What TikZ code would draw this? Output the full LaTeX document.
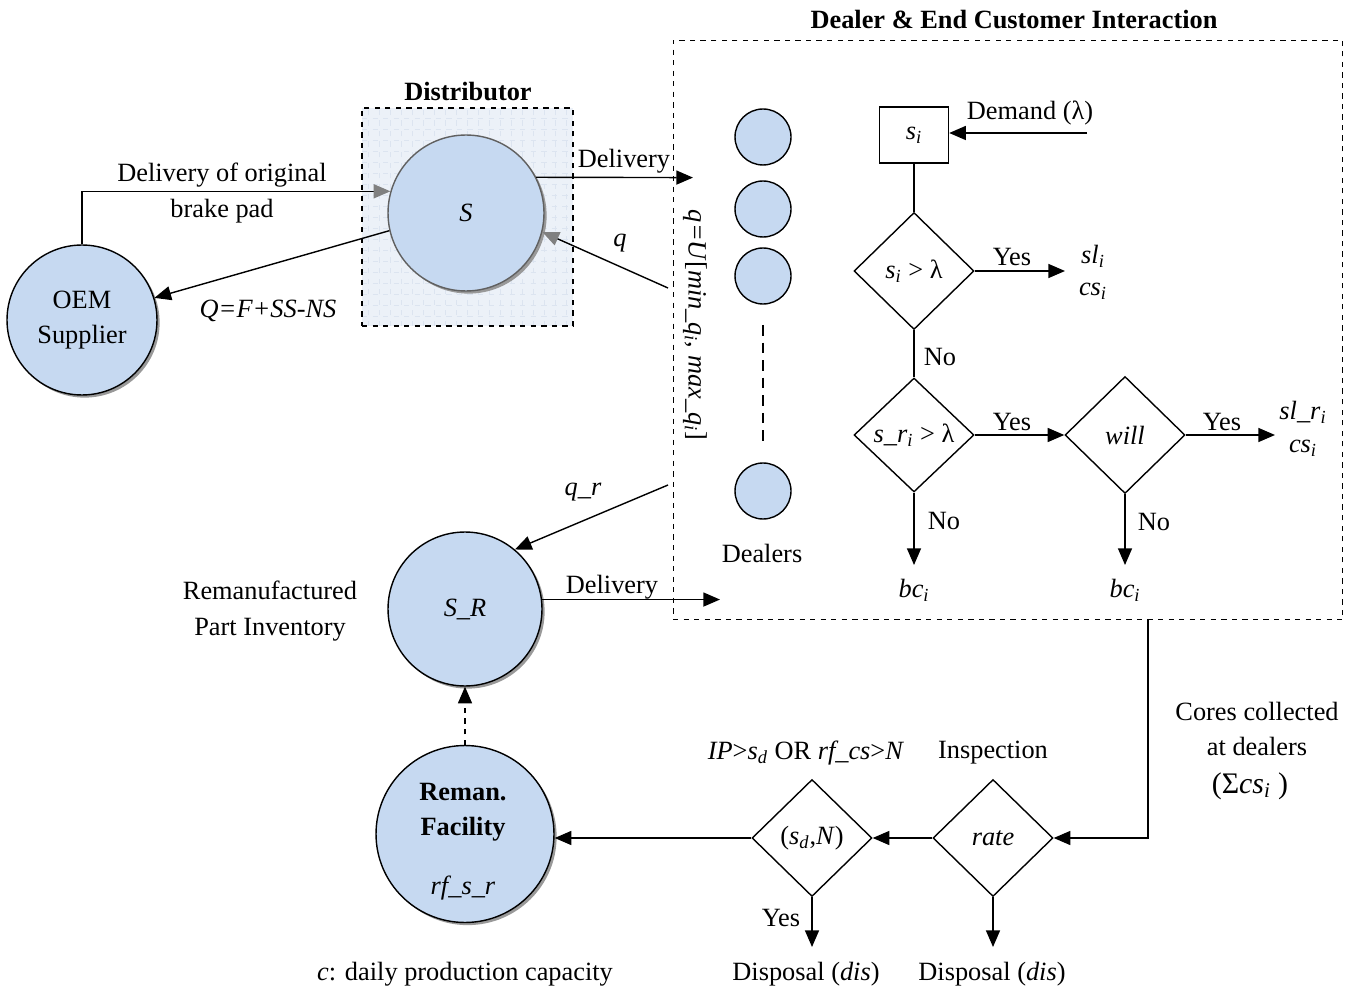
\documentclass[tikz,border=0pt]{standalone}
\usepackage{fontspec}
\setmainfont{Liberation Serif}
\usetikzlibrary{arrows.meta,shapes.geometric,shadows,calc}
\definecolor{cfill}{RGB}{198,217,241}
\definecolor{gfill}{RGB}{236,241,248}
\definecolor{gline}{RGB}{220,228,240}
\newcommand{\sbs}[1]{\textsubscript{\textit{#1}}}
\begin{document}
\begin{tikzpicture}[x=0.02cm,y=-0.02cm, font=\fontsize{15}{18}\selectfont,
 every node/.style={inner sep=1pt},
 arr/.style={draw=black, line width=0.8pt, -{Triangle[length=9.5pt,width=8pt]}},
 garr/.style={draw=black, line width=0.8pt, -{Triangle[length=9.5pt,width=8pt,color=gray]}},
 ln/.style={line width=0.8pt},
 shad/.style={drop shadow={shadow xshift=1.5pt, shadow yshift=-1.5pt, fill=gray!80, opacity=1}},
 blob/.style={circle, draw=black, line width=0.8pt, fill=cfill, shad, align=center},
 dealer/.style={circle, draw=black, line width=0.8pt, fill=cfill, minimum size=1.12cm},
 dia/.style={diamond, draw, line width=0.8pt, inner sep=0pt, minimum width=2.4cm, minimum height=2.34cm},
 dbox/.style={draw, dashed, line width=0.6pt},
]
\useasboundingbox (0,0) rectangle (1358,989);

% ---------- Distributor ----------
\node[font=\fontsize{15}{18}\selectfont\bfseries] (tdist) at (468,92) {Distributor};
\node[dbox, fill=gfill, minimum width=4.22cm, minimum height=4.36cm,
  path picture={\draw[gline, line width=0.4pt, step=0.22cm] (path picture bounding box.south west) grid (path picture bounding box.north east);}]
  (distbox) at (467.5,217) {};
\node[circle, draw=gray!75!black, line width=0.8pt, fill=cfill, minimum size=3.12cm, shad] (S) at (466,213) {\textit{S}};

% ---------- OEM ----------
\node[blob, minimum size=3cm] (oem) at (82,320) {OEM\\[2pt]Supplier};
\draw[garr] (oem.north) |- (S.164);
\node (tdel1) at (222,175) {Delivery of original};
\node (tdel2) at (222,211) {brake pad};
\draw[arr] (S.193) -- (oem.17);
\node (tQ) at (268,311) {\textit{Q=F+SS-NS}};

% ---------- Dealer box ----------
\node[font=\fontsize{15}{18}\selectfont\bfseries] (tdeal) at (1014,20) {Dealer \& End Customer Interaction};
\node[dbox, minimum width=13.4cm, minimum height=11.6cm] (dealerbox) at (1008,330) {};

\coordinate (dlvend) at (693,177.6);
\draw[arr] (S.27) -- (dlvend);
\node (tdlv) at (624,161) {Delivery};
\coordinate (qstart) at (668,288);
\draw[garr] (qstart) -- (S.-14);
\node (tq) at (620,243) {\textit{q}};

\node[rotate=-90] (qU) at (695,325) {\textit{q=U}[\textit{min\_q}\sbs{i}, \textit{max\_q}\sbs{i}]};

% dealers
\node[dealer] (dl1) at (763,137) {};
\node[dealer] (dl2) at (763,209) {};
\node[dealer] (dl3) at (763,276) {};
\node[dealer] (dl4) at (763,491) {};
\coordinate (dd1) at (763,325);
\coordinate (dd2) at (763,445);
\draw[line width=0.8pt, dash pattern=on 6pt off 4pt] (dd1) -- (dd2);
\node (tdealers) at (762,553) {Dealers};

% decision chain
\node[draw, line width=0.8pt, minimum width=1.38cm, minimum height=1.12cm] (si) at (914,135) {\textit{s}\sbs{i}};
\coordinate (dem) at (1087,133);
\draw[arr] (dem) -- (dem -| si.east);
\node (tdem) at (1030,113) {Demand (λ)};

\node[dia] (d1) at (914,271) {\textit{s}\sbs{i} > λ};
\draw[ln] (si.south) -- (d1.north);
\coordinate (y1) at (1065,271);
\draw[arr] (d1.east) -- (y1);
\node (tyes1) at (1012,257) {Yes};
\node (tsl) at (1093,256) {\textit{sl}\sbs{i}};
\node (tcs1) at (1093,291) {\textit{cs}\sbs{i}};

\node[dia, minimum height=2.28cm] (d2) at (914,435) {\textit{s\_r}\sbs{i} > λ};
\draw[ln] (d1.south) -- (d2.north);
\node (tno1) at (940,357) {No};

\node[dia] (d3) at (1125,435) {\textit{will}};
\draw[arr] (d2.east) -- (d3.west);
\node (tyes2) at (1012,422) {Yes};
\coordinate (y3) at (1275,435);
\draw[arr] (d3.east) -- (y3);
\node (tyes3) at (1222,422) {Yes};
\node (tslr) at (1303,412) {\textit{sl\_r}\sbs{i}};
\node (tcs2) at (1303,448) {\textit{cs}\sbs{i}};

\coordinate (n2) at (914,565);
\draw[arr] (d2.south) -- (n2);
\node (tno2) at (944,521) {No};
\node (tbc1) at (914,590) {\textit{bc}\sbs{i}};
\coordinate (n3) at (1125,565);
\draw[arr] (d3.south) -- (n3);
\node (tno3) at (1154,522) {No};
\node (tbc2) at (1125,590) {\textit{bc}\sbs{i}};

% ---------- Remanufactured inventory ----------
\node[blob, minimum size=3.08cm] (SR) at (465,609) {\textit{S\_R}};
\coordinate (qrstart) at (668,485);
\draw[arr] (qrstart) -- (SR.50);
\node (tqr) at (583,492) {\textit{q\_r}};
\node[align=center] (trem) at (270,611) {Remanufactured\\[2pt]Part Inventory};
\coordinate (dlv2end) at (720,600);
\draw[arr] (SR.7) -- (SR.7 -| dlv2end);
\node (tdlv2) at (612,587) {Delivery};

% ---------- Reman facility ----------
\node[blob, minimum width=3.56cm, minimum height=3.54cm, ellipse] (rf) at (465,834) {};
\node[font=\fontsize{15}{18}\selectfont\bfseries, align=center] (trf) at (463,812) {Reman.\\[2pt]Facility};
\node (trfs) at (463,888) {\textit{rf\_s\_r}};
\draw[dashed, line width=0.8pt, -{Triangle[length=9.5pt,width=8pt]}] (rf.north) -- (SR.south);
\node (tcap) at (465,974) {\textit{c}: daily production capacity};

% ---------- Inspection chain ----------
\node[dia] (rate) at (993,838) {\textit{rate}};
\node[dia] (sdn) at (812,838) {(\textit{s}\sbs{d},\textit{N})};
\coordinate (cc) at (1148,620);
\draw[arr] (cc) |- (rate.east);
\draw[arr] (rate.west) -- (sdn.east);
\draw[arr] (sdn.west) -- (sdn.west -| rf.east);
\node (tip) at (806,753) {\textit{IP}>\textit{s}\sbs{d} OR \textit{rf\_cs}>\textit{N}};
\node (tinsp) at (993,753) {Inspection};
\coordinate (dis1) at (812,947);
\coordinate (dis2) at (993,947);
\draw[arr] (sdn.south) -- (dis1);
\draw[arr] (rate.south) -- (dis2);
\node (tyes4) at (781,918) {Yes};
\node (tdis1) at (806,974) {Disposal (\textit{dis})};
\node (tdis2) at (992,974) {Disposal (\textit{dis})};
\node[align=center] (tcores) at (1257,729) {Cores collected\\[2pt]at dealers};
\node (tsum) at (1250,786) {\fontsize{17}{20}\selectfont(Σ\textit{cs}\sbs{i} )};
\end{tikzpicture}
\end{document}
